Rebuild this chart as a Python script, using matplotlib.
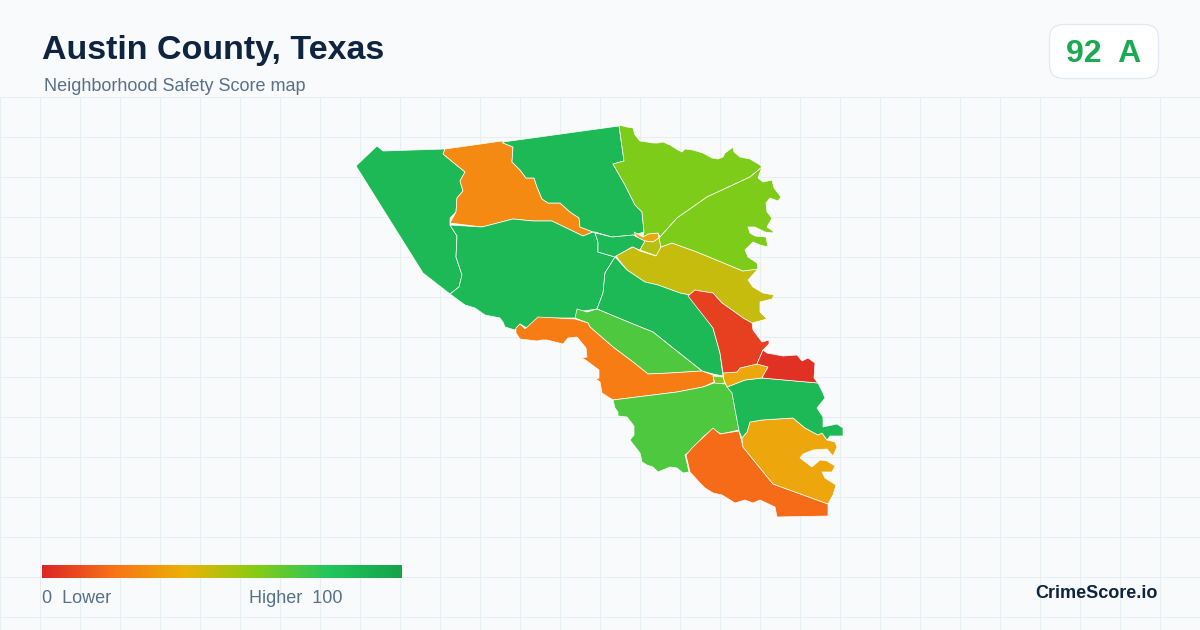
import matplotlib
matplotlib.use("Agg")
import matplotlib.pyplot as plt
from matplotlib.colors import LinearSegmentedColormap
from matplotlib.patches import FancyBboxPatch
import numpy as np

plt.rcParams['font.family'] = ['Liberation Sans', 'DejaVu Sans']

title = "Austin County, Texas"
subtitle = "Neighborhood Safety Score map"
score_label = "92  A"
brand = "CrimeScore.io"
legend_low = "0  Lower"
legend_high = "Higher  100"

BG = '#f8fafc'
GRID = '#e8eff3'

# colour scale of the legend bar
scale_stops = [0, 0.2, 0.4, 0.6, 0.8, 1]
scale_colors = ['#dc2626', '#f97316', '#eab308', '#84cc16', '#22c55e', '#16a34a']

# outlines, in image pixels
west = [(356,166),(377,146),(383,151),(445,149),(443,154),(465,172),(460,181),(463,191),(457,198),(456,212),
        (450,218),(450,225),(457,236),(456,257),(462,275),(459,287),(450,294),(423,273)]
north_orange = [(445,149),(502,141),(503,143),(513,147),(512,162),(520,170),(526,178),(534,178),(537,187),(542,199),
                (548,203),(560,203),(570,212),(579,218),(580,227),(593,232),(583,236),(552,221),(533,221),(513,219),
                (482,227),(450,223),(456,212),(457,198),(463,191),(460,181),(465,172),(443,154)]
north_green = [(503,142),(619,126),(624,161),(613,164),(625,185),(635,205),(642,212),(644,232),(634,235),(612,237),
               (595,232),(593,232),(580,227),(579,218),(570,212),(560,203),(548,203),(542,199),(537,187),(534,178),
               (526,178),(520,170),(512,162),(513,147),(503,143)]
central_west = [(450,225),(482,227),(513,219),(533,221),(552,221),(583,236),(593,232),(595,233),(598,242),(598,252),
                (615,257),(605,273),(603,293),(597,309),(577,312),(575,318),(538,318),(527,328),(520,324),(515,330),
                (505,327),(503,322),(500,318),(485,315),(475,308),(465,305),(450,294),(459,287),(462,275),(456,257),(457,236)]
small_green = [(595,233),(612,237),(633,235),(645,241),(640,250),(632,247),(615,257),(598,252),(598,242)]
tiny_amber = [(634,232),(643,237),(648,234),(658,233),(659,238),(653,242),(645,241),(637,237)]
tiny_olive = [(640,250),(645,241),(653,242),(659,238),(661,247),(657,256)]
olive = [(616,256),(633,247),(640,251),(656,256),(661,247),(672,243),(697,252),(743,271),(758,269),(748,280),
         (753,287),(763,293),(774,295),(772,299),(760,302),(760,312),(767,319),(752,323),(743,318),(732,310),
         (722,303),(713,293),(700,291),(695,290),(690,295),(680,293),(658,285),(645,282),(627,270)]
lime_north = [(619,125),(627,127),(633,128),(635,135),(640,141),(647,142),(653,143),(658,143),(663,142),(670,145),
              (678,150),(682,152),(685,149),(693,150),(703,153),(712,158),(718,159),(723,157),(725,153),(732,148),
              (733,147),(734,152),(740,157),(750,159),(760,165),(762,167),(750,177),(707,197),(677,218),(660,237),
              (658,233),(648,234),(643,237),(644,232),(642,212),(635,205),(625,185),(613,164),(624,161)]
lime_south = [(762,167),(758,178),(763,182),(772,180),(774,188),(781,197),(778,201),(770,198),(766,203),(767,212),
              (772,218),(767,227),(773,231),(773,233),(765,232),(755,227),(748,227),(750,233),(755,236),(766,237),
              (768,247),(760,245),(753,242),(745,250),(748,257),(757,263),(758,269),(743,271),(697,252),(672,243),
              (661,247),(659,238),(660,237),(677,218),(707,197),(750,177)]
central_green = [(615,257),(627,270),(645,282),(658,285),(680,293),(690,295),(703,313),(713,328),(720,353),(723,376),
                 (713,374),(702,371),(673,348),(653,332),(633,324),(597,309),(603,293),(605,273)]
light_green = [(577,309),(587,312),(597,309),(633,324),(653,332),(673,348),(702,371),(670,373),(648,374),(633,362),
               (613,347),(590,327),(588,323),(575,318)]
river_orange = [(516,328),(520,324),(525,329),(538,317),(575,319),(588,323),(590,327),(613,347),(633,362),(648,374),
                (670,373),(702,371),(713,375),(714,382),(703,387),(677,392),(613,400),(602,393),(600,382),(596,379),
                (599,378),(599,370),(587,361),(582,358),(587,357),(586,348),(577,337),(568,338),(563,344),(547,340),
                (542,340),(537,341),(520,339),(516,333)]
tiny_lime = [(713,376),(723,377),(725,383),(715,384)]
south_green = [(613,400),(677,392),(703,387),(714,383),(725,384),(732,392),(739,430),(721,434),(713,429),(703,437),
               (692,450),(685,455),(687,463),(689,472),(683,473),(677,468),(670,467),(658,472),(653,467),(647,465),
               (642,462),(640,453),(630,440),(634,435),(634,426),(627,417),(618,416),(618,412),(615,408)]
south_orange = [(713,428),(720,434),(739,431),(743,447),(773,484),(828,504),(828,516),(777,517),(775,507),(760,500),
                (753,503),(745,500),(735,503),(722,495),(713,493),(705,488),(700,483),(690,472),(686,455),(693,447)]
bay_amber = [(750,422),(762,420),(793,418),(805,428),(818,435),(822,433),(827,440),(835,442),(837,447),(833,456),
             (827,449),(813,450),(803,454),(800,458),(812,467),(820,460),(827,461),(835,466),(832,472),(822,472),
             (825,478),(836,485),(833,495),(828,504),(773,484),(743,447),(742,438),(747,432)]
east_green = [(727,387),(745,380),(762,378),(818,383),(823,393),(825,398),(817,408),(823,417),(823,427),(837,424),
              (843,428),(843,436),(830,436),(827,440),(822,433),(818,435),(805,428),(793,418),(762,420),(750,422),
              (747,432),(742,438),(739,431),(732,393)]
small_amber = [(723,373),(737,372),(740,368),(757,364),(768,367),(762,378),(745,380),(727,387),(724,380)]
red_north = [(688,296),(695,290),(700,291),(713,293),(722,303),(732,310),(743,318),(752,323),(753,330),(762,342),
             (769,340),(769,344),(763,350),(757,364),(740,368),(737,372),(723,373),(720,353),(713,328)]
red_east = [(763,350),(767,353),(783,356),(797,355),(802,361),(808,358),(815,363),(814,378),(818,383),(762,378),
            (768,367),(757,364)]

regions = [west, north_orange, north_green, central_west, small_green, tiny_amber, tiny_olive, olive,
           lime_north, lime_south, central_green, light_green, river_orange, tiny_lime, south_green,
           south_orange, bay_amber, east_green, small_amber, red_north, red_east]
region_scores = [87, 27, 87, 87, 87, 36, 50, 47,
                 61, 61, 87, 71, 23, 61, 71,
                 18, 36, 87, 36, 7, 3]

cmap = LinearSegmentedColormap.from_list('score', list(zip(scale_stops, scale_colors)))

fig = plt.figure(figsize=(12, 6.3), dpi=100, facecolor=BG)
ax = fig.add_axes([0, 0, 1, 1])
ax.set_facecolor(BG)
ax.axis('off')

ax.vlines(np.arange(0, 1200, 40), 97, 630, color=GRID, lw=0.75, zorder=1)
ax.hlines(np.arange(97, 630, 40), 0, 1200, color=GRID, lw=0.75, zorder=1)

for outline, score in zip(regions, region_scores):
    ax.fill(*zip(*outline), facecolor=cmap(score / 100), edgecolor='white', lw=0.5,
            joinstyle='round', zorder=2)

ax.text(42, 59.5, title, fontsize=24.5, fontweight='bold', color='#0f2440', va='baseline', ha='left')
ax.text(44, 91, subtitle, fontsize=13, color='#5a7089', va='baseline', ha='left')

badge = FancyBboxPatch((1049.5, 24.5), 109, 54, boxstyle='round,pad=0,rounding_size=14',
                       facecolor='white', edgecolor='#e2e8f0', lw=0.9, zorder=3)
ax.add_patch(badge)
ax.text(1103.5, 62, score_label, fontsize=23, fontweight='bold', color='#1aab52', va='baseline', ha='center', zorder=4)

gradient = np.linspace(0, 1, 360).reshape(1, -1)
ax.imshow(gradient, cmap=cmap, extent=(42, 402, 578, 565), aspect='auto', zorder=3, interpolation='bilinear')

ax.text(42, 603, legend_low, fontsize=13, color='#5a7089', va='baseline', ha='left')
ax.text(249, 603, legend_high, fontsize=13, color='#5a7089', va='baseline', ha='left')
ax.text(1158, 598.5, brand, fontsize=13, fontweight='bold', color='#0f2440', va='baseline', ha='right')

ax.set_xlim(0, 1200)
ax.set_ylim(630, 0)
fig.savefig('out.png', dpi=100, facecolor=BG)
